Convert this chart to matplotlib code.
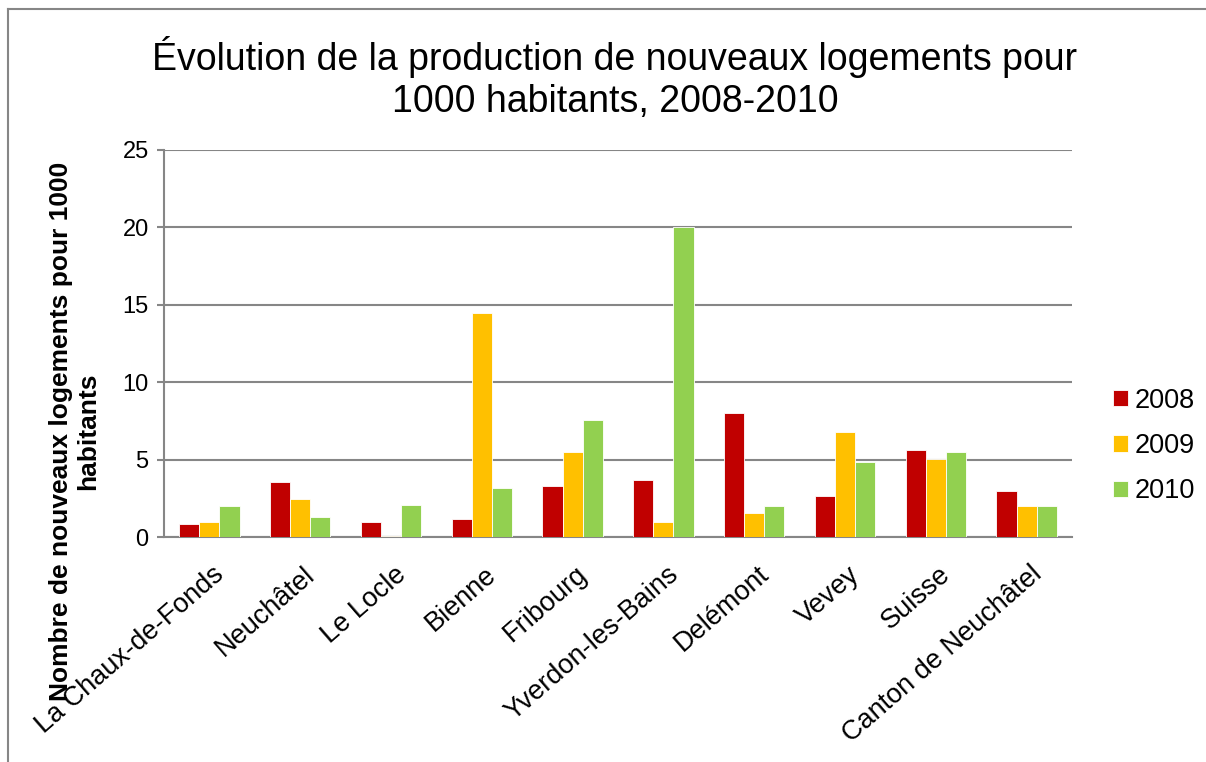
import matplotlib
matplotlib.use("Agg")
import matplotlib.pyplot as plt
import matplotlib.transforms as mtransforms
import numpy as np
from matplotlib.lines import Line2D

categories = ["La Chaux-de-Fonds", "Neuchâtel", "Le Locle", "Bienne", "Fribourg",
              "Yverdon-les-Bains", "Delémont", "Vevey", "Suisse", "Canton de Neuchâtel"]
years = ["2008", "2009", "2010"]
v2008 = [0.87, 3.58, 0.97, 1.16, 3.28, 3.67, 7.98, 2.67, 5.65, 2.97]
v2009 = [0.97, 2.48, 0.09, 14.48, 5.48, 0.97, 1.58, 6.77, 5.07, 1.98]
v2010 = [1.98, 1.27, 2.09, 3.19, 7.57, 20.04, 1.98, 4.87, 5.48, 1.98]
colors = ["#C00000", "#FFC000", "#92D050"]

plt.rcParams['font.family'] = ['Liberation Sans', 'DejaVu Sans']

W, H = 1206, 762
fig = plt.figure(figsize=(W/100, H/100), dpi=100)
ax = fig.add_axes([164/W, 1-537/H, (1072-164)/W, (537-150)/H])

x = np.arange(len(categories))
w = 1/4.5
for i, (vals, lab) in enumerate(zip([v2008, v2009, v2010], years)):
    ax.bar(x + (i-1)*w, vals, width=w, color=colors[i], edgecolor='white',
           linewidth=0.6, label=lab, zorder=3)

ax.set_xlim(-0.5, len(categories)-0.5)
ax.set_ylim(0, 25)
ax.set_yticks([0, 5, 10, 15, 20, 25])
ax.yaxis.grid(True, color='#868686', linewidth=1.5, zorder=0)
for s in ['top', 'right']:
    ax.spines[s].set_visible(False)
for s in ['left', 'bottom']:
    ax.spines[s].set_color('#868686')
    ax.spines[s].set_linewidth(1.5)
ax.tick_params(axis='y', length=5, width=1.5, color='#868686', labelsize=17, pad=6)
ax.tick_params(axis='x', length=0, labelsize=19.5, pad=17.5)
ax.set_xticks(x)
ax.set_xticklabels(categories, rotation=41, ha='right', rotation_mode='anchor')
offset = mtransforms.ScaledTranslation(3/100, 0, fig.dpi_scale_trans)
for lbl in ax.get_xticklabels():
    lbl.set_transform(lbl.get_transform() + offset)

fig.text(615/W, 1-78/H, "Évolution de la production de nouveaux logements pour\n1000 habitants, 2008-2010",
         ha='center', va='center', fontsize=27, linespacing=1.2)

fig.text(74.5/W, 1-431/H, "Nombre de nouveaux logements pour 1000\nhabitants",
         rotation=90, ha='center', va='center', fontsize=19, fontweight='bold',
         linespacing=1.2)

leg = ax.legend(loc='center left', bbox_to_anchor=(1113/W, 1-446/H),
                bbox_transform=fig.transFigure, frameon=False, borderpad=0,
                borderaxespad=0, fontsize=19.5, handlelength=0.55, handleheight=0.55,
                handletextpad=0.25, labelspacing=0.72)

# outer border (top and left)
fig.add_artist(Line2D([8/W, 1.0], [1-9/H, 1-9/H], color='#868686', linewidth=1.5))
fig.add_artist(Line2D([8/W, 8/W], [0, 1-9/H], color='#868686', linewidth=1.5))

fig.savefig("out.png", dpi=100)
